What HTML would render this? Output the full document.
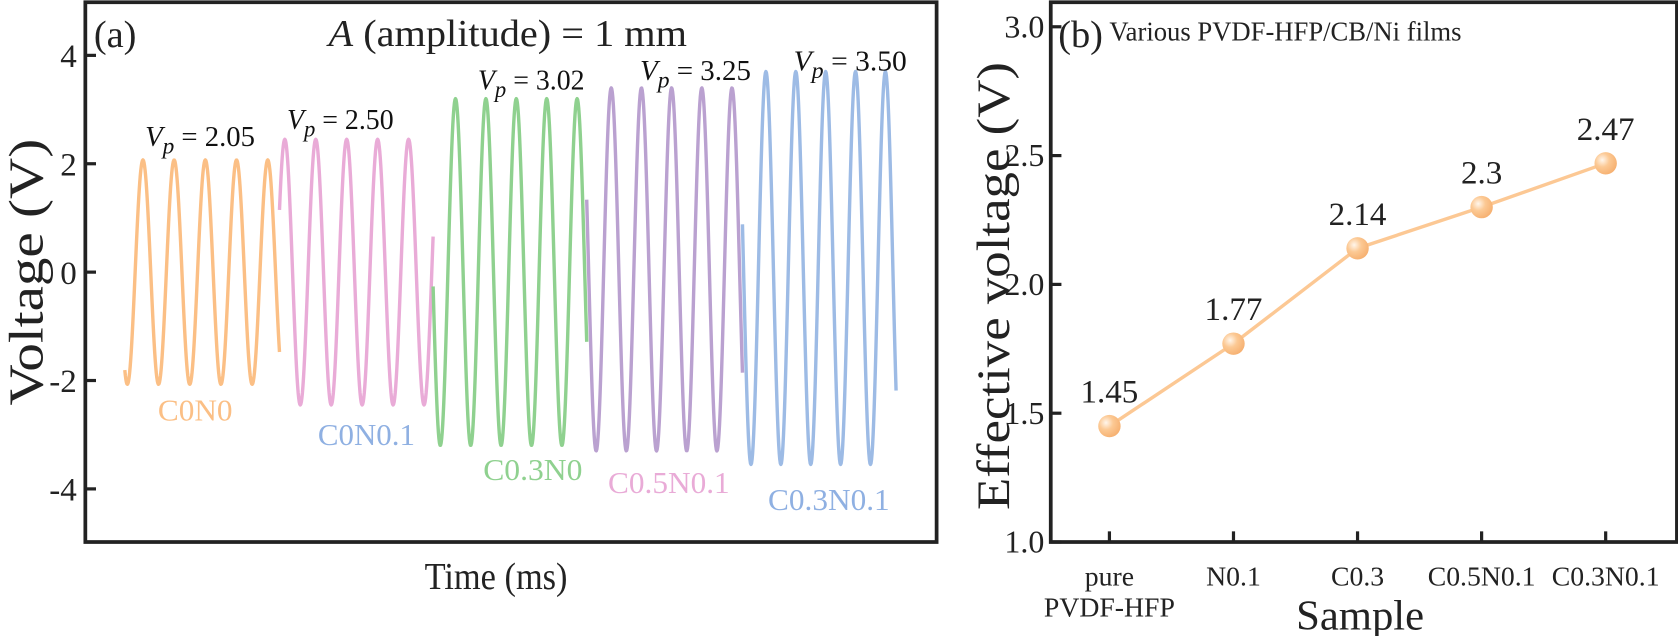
<!DOCTYPE html>
<html><head><meta charset="utf-8"><style>
html,body{margin:0;padding:0;background:#fff;}
svg{display:block;font-family:"Liberation Serif",serif;}
</style></head><body>
<svg id="fig" width="1678" height="636" viewBox="0 0 1573 596" xmlns="http://www.w3.org/2000/svg">
<defs>
<radialGradient id="ball" cx="0.35" cy="0.35" r="0.7">
<stop offset="0" stop-color="#fff6ec"/><stop offset="0.45" stop-color="#fcc994"/><stop offset="1" stop-color="#f6b070"/>
</radialGradient>
</defs>
<g id="pa"></g>
<g id="pb"></g>
</svg>
<script>
// ---- Panel (a) data ----
const segNames = ["C0N0","C0N0.1","C0.3N0","C0.5N0.1","C0.3N0.1"];
const segStartT = [117,262,406,550,696];
const segEndT = [262,406,550,696,840];
const segFirstPeakT = [134,267,427,573,718];
const segPeriod = [29.25,29,28.5,28.3,28];
const segPeak = [2.07,2.45,3.2,3.4,3.7];
const segTrough = [-2.07,-2.45,-3.2,-3.3,-3.55];
const vpLabels = ["2.05","2.50","3.02","3.25","3.50"];
const aTicks = [4,2,0,-2,-4];
// ---- Panel (b) data ----
const samples = ["pure|PVDF-HFP","N0.1","C0.3","C0.5N0.1","C0.3N0.1"];
const effV = [1.45,1.77,2.14,2.3,2.47];
const bTicks = [1.0,1.5,2.0,2.5,3.0];

const NS="http://www.w3.org/2000/svg";
function mk(parent,tag,attrs,text){const e=document.createElementNS(NS,tag);for(const k in attrs)e.setAttribute(k,attrs[k]);if(text!==undefined)e.textContent=text;parent.appendChild(e);return e;}

// Panel a
const pa=document.getElementById('pa');
const aL=80,aR=878,aT=2,aB=508;
const ay=v=>255-v*50.8;
const colors=["#fbbf85","#e9abd7","#8fd18f","#baa1d0","#9dbbe5"];
const labColors=["#fbbf85","#8fb0e2","#8fd18f","#e9abd7","#8fb0e2"];
const vpPos=[[136,137],[269,121],[448,84],[600,75],[744,66]];
const labPos=[[148,394],[298,417],[453,450],[570,462],[720,478]];
const labW=[70,91,93,114,114];
const vpW=[103,100,100,104,106];
segNames.forEach((n,i)=>{
  let d="";const mid=(segPeak[i]+segTrough[i])/2,amp=(segPeak[i]-segTrough[i])/2;
  for(let t=segStartT[i];t<=segEndT[i]+0.01;t+=0.5){
    const v=mid+amp*Math.cos(2*Math.PI*(t-segFirstPeakT[i])/segPeriod[i]);
    d+=(d?"L":"M")+t.toFixed(1)+","+ay(v).toFixed(1);
  }
  const p=mk(pa,'path',{d:d,fill:'none',stroke:colors[i],'stroke-width':3.2,'stroke-linejoin':'round'});
  
  
  const vt=mk(pa,'text',{x:vpPos[i][0],y:vpPos[i][1],'font-size':27,fill:'#111',textLength:vpW[i],lengthAdjust:'spacingAndGlyphs'});
  
  
  mk(vt,'tspan',{'font-style':'italic'},'V');
  mk(vt,'tspan',{'font-style':'italic','font-size':22,dy:7},'p');
  mk(vt,'tspan',{dy:-7},' = '+vpLabels[i]);
  const lt=mk(pa,'text',{x:labPos[i][0],y:labPos[i][1],'font-size':29,fill:labColors[i],textLength:labW[i],lengthAdjust:'spacingAndGlyphs'},n);
  
  
});
const fa=mk(pa,'rect',{x:aL,y:aT,width:aR-aL,height:aB-aT,fill:'none',stroke:'#222','stroke-width':3.5});


aTicks.forEach(v=>{
  const tk=mk(pa,'line',{x1:aL,x2:aL+10,y1:ay(v),y2:ay(v),stroke:'#222','stroke-width':3});
  
  
  const tl=mk(pa,'text',{x:aL-8,y:ay(v)+11,'font-size':31,'text-anchor':'end',fill:'#222'},String(v));
  
  
});
</script>
<script>
(function(){
const NS="http://www.w3.org/2000/svg";
function mk(parent,tag,attrs,text){const e=document.createElementNS(NS,tag);for(const k in attrs)e.setAttribute(k,attrs[k]);if(text!==undefined)e.textContent=text;parent.appendChild(e);return e;}
const pa=document.getElementById('pa');
let t=mk(pa,'text',{x:88,y:44,'font-size':36,fill:'#222'},'(a)');


t=mk(pa,'text',{x:308,y:43,'font-size':36,fill:'#222',textLength:336,lengthAdjust:'spacingAndGlyphs'});


mk(t,'tspan',{'font-style':'italic'},'A');
mk(t,'tspan',{},' (amplitude) = 1 mm');
t=mk(pa,'text',{x:0,y:0,'font-size':46,fill:'#222','text-anchor':'middle',textLength:250,lengthAdjust:'spacingAndGlyphs',transform:'translate(40,255) rotate(-90)'},'Voltage (V)');


t=mk(pa,'text',{x:465,y:552,'font-size':36,fill:'#222','text-anchor':'middle',textLength:134,lengthAdjust:'spacingAndGlyphs'},'Time (ms)');



// Panel b
const pb=document.getElementById('pb');
const bL=985,bR=1572,bT=2,bB=508;
const by=v=>508-(v-1)*241.5;
const bx=i=>1040+i*116.3;
let d="";
effV.forEach((v,i)=>{d+=(i?"L":"M")+bx(i)+","+by(v);});
let ln=mk(pb,'path',{d:d,fill:'none',stroke:'#fcc894','stroke-width':3.2});


effV.forEach((v,i)=>{
  const c=mk(pb,'circle',{cx:bx(i),cy:by(v),r:10.5,fill:'url(#ball)'});
  
  
  const vl=mk(pb,'text',{x:bx(i),y:by(v)-22,'font-size':31,'text-anchor':'middle',fill:'#222'},String(v));
  
  
  const tk=mk(pb,'line',{x1:bx(i),x2:bx(i),y1:bB,y2:bB-10,stroke:'#222','stroke-width':3});
  
  
  const parts=samples[i].split('|');
  parts.forEach((p,j)=>{
    const cl=mk(pb,'text',{x:bx(i),y:549+j*29,'font-size':26,'text-anchor':'middle',fill:'#222'},p);
    
    
  });
});
bTicks.forEach(v=>{
  const tk=mk(pb,'line',{x1:bL,x2:bL+10,y1:by(v),y2:by(v),stroke:'#222','stroke-width':3});
  
  
  const tl=mk(pb,'text',{x:bL-6,y:by(v)+10,'font-size':30,'text-anchor':'end',fill:'#222'},v.toFixed(1));
  
  
});
const fb=mk(pb,'rect',{x:bL,y:bT,width:bR-bL,height:bB-bT,fill:'none',stroke:'#222','stroke-width':3.5});


t=mk(pb,'text',{x:992,y:44,'font-size':36,fill:'#222'},'(b)');


t=mk(pb,'text',{x:1040,y:38,'font-size':26,fill:'#222',textLength:330,lengthAdjust:'spacingAndGlyphs'},'Various PVDF-HFP/CB/Ni films');


t=mk(pb,'text',{x:0,y:0,'font-size':44,fill:'#222','text-anchor':'middle',textLength:420,lengthAdjust:'spacingAndGlyphs',transform:'translate(946,268) rotate(-90)'},'Effective voltage (V)');


t=mk(pb,'text',{x:1275,y:590,'font-size':40,fill:'#222','text-anchor':'middle',textLength:120,lengthAdjust:'spacingAndGlyphs'},'Sample');


})();
</script>
</body></html>
